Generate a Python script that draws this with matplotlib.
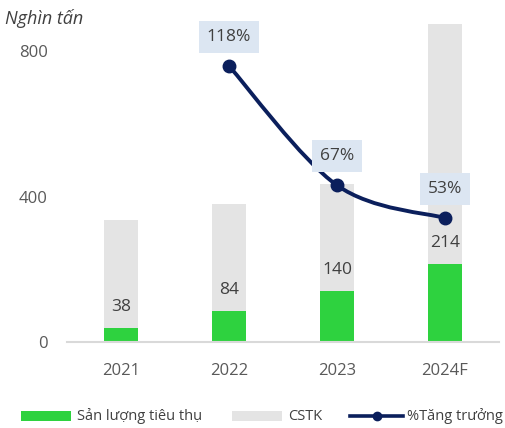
import matplotlib
matplotlib.use("Agg")
import matplotlib.pyplot as plt
from matplotlib.path import Path
from matplotlib.patches import PathPatch, Rectangle
from matplotlib.lines import Line2D
import numpy as np

plt.rcParams['font.family'] = ['Open Sans', 'DejaVu Sans']

categories = ["2021", "2022", "2023", "2024F"]
sales = [38, 84, 140, 214]            # Sản lượng tiêu thụ
capacity = [336, 381, 436, 875]       # CSTK
growth_idx = [1, 2, 3]
growth = [118, 67, 53]                # %Tăng trưởng
growth_labels = ["118%", "67%", "53%"]
yticks = [0, 400, 800]
legend_labels = ["Sản lượng tiêu thụ", "CSTK", "%Tăng trưởng"]

GREEN = '#2ed23f'
GRAY = '#e4e4e4'
NAVY = '#0b1f5c'
TXT = '#404040'
TICK = '#595959'

W, H = 505, 428
fig = plt.figure(figsize=(W/100, H/100), dpi=100)
ax = fig.add_axes([67/W, 86/H, 432/W, 332/H])
ymax = 332 / (145.3 / 400)
ax.set_xlim(-0.5, 3.5)
ax.set_ylim(0, ymax)

x = np.arange(len(categories))
w = 0.31
ax.bar(x, capacity, width=w, color=GRAY, zorder=1)
ax.bar(x, sales, width=w, color=GREEN, zorder=2)
for xi, v in zip(x, sales):
    ax.annotate(str(v), (xi, v), xytext=(0, 21), textcoords='offset pixels',
                ha='center', va='center', fontsize=12.5, color=TXT)

for s in ['top', 'right', 'left']:
    ax.spines[s].set_visible(False)
ax.spines['bottom'].set_color('#d9d9d9')
ax.spines['bottom'].set_linewidth(1.5)
ax.set_xticks(x)
ax.set_xticklabels(categories, fontsize=12, color=TICK)
ax.set_yticks(yticks)
ax.set_yticklabels([str(t) for t in yticks], fontsize=12, color=TICK)
ax.tick_params(axis='both', length=0)
ax.tick_params(axis='y', pad=14)
ax.tick_params(axis='x', pad=15)

ax2 = ax.twinx()
ax2.set_ylim(0, ymax * (145.3 / 400) / (276 / 118))
ax2.set_axis_off()

# smooth curve (Excel-like Catmull-Rom) through the data points
pts = np.column_stack([growth_idx, growth]).astype(float)
n = len(pts)
verts = [tuple(pts[0])]
codes = [Path.MOVETO]
for i in range(n - 1):
    p0 = pts[max(i - 1, 0)]
    p1 = pts[i]
    p2 = pts[i + 1]
    p3 = pts[min(i + 2, n - 1)]
    c1 = p1 + (p2 - p0) / 6
    c2 = p2 - (p3 - p1) / 6
    verts += [tuple(c1), tuple(c2), tuple(p2)]
    codes += [Path.CURVE4] * 3
ax2.add_patch(PathPatch(Path(verts, codes), facecolor='none', edgecolor=NAVY, lw=2.8, zorder=3))
ax2.plot(growth_idx, growth, linestyle='none', marker='o', markersize=9, color=NAVY, zorder=4)
for xi, v, lab in zip(growth_idx, growth, growth_labels):
    ax2.annotate(lab, (xi, v), xytext=(0, 29), textcoords='offset pixels', ha='center', va='center',
                 fontsize=12.5, color=TXT,
                 bbox=dict(boxstyle='square,pad=0.45', facecolor='#dce6f2', edgecolor='none'))

fig.text(5/W, 1 - 18/H, "Nghìn tấn", fontsize=13, style='italic', color=TXT, ha='left', va='center')

# manual legend
ly = 1 - 416/H
fig.patches.append(Rectangle((21/W, ly - 5/H), 50/W, 10/H, transform=fig.transFigure,
                             facecolor=GREEN, edgecolor='none'))
fig.patches.append(Rectangle((232/W, ly - 5/H), 50/W, 10/H, transform=fig.transFigure,
                             facecolor=GRAY, edgecolor='none'))
fig.lines.append(Line2D([350/W, 403/W], [ly, ly], transform=fig.transFigure, color=NAVY, lw=2.6))
fig.lines.append(Line2D([376.5/W], [ly], transform=fig.transFigure, color=NAVY, marker='o',
                        markersize=6, linestyle='none'))
for lx, lab in zip([77, 288, 407], legend_labels):
    fig.text(lx/W, ly, lab, fontsize=10.5, color=TXT, ha='left', va='center')

fig.savefig("out.png", dpi=100)
